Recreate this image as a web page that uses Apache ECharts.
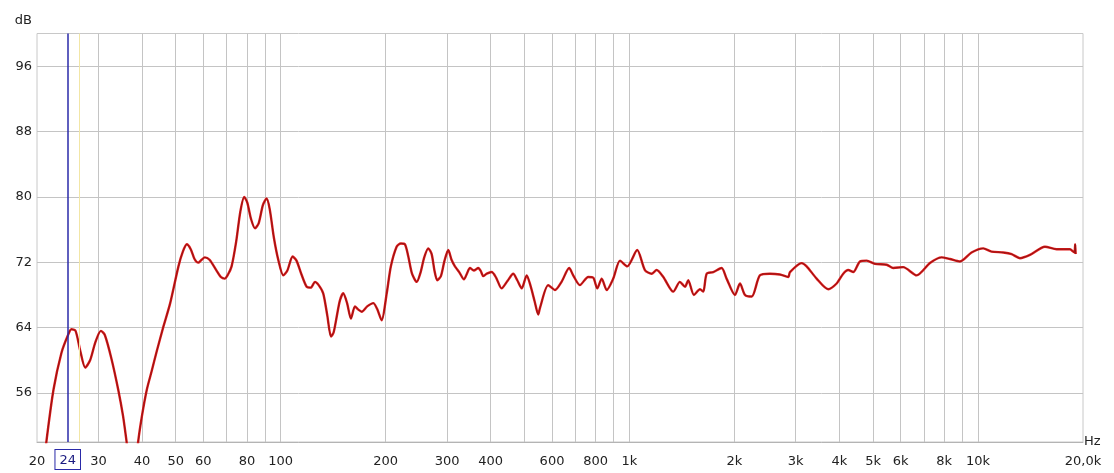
<!DOCTYPE html>
<html>
<head>
<meta charset="utf-8">
<title>Frequency response</title>
<script src="https://cdn.jsdelivr.net/npm/echarts@6/dist/echarts.min.js"></script>
<style>
  html, body { margin: 0; padding: 0; background: #fff; }
  #chart { width: 1114px; height: 473px; }
</style>
</head>
<body>
<div id="chart"></div>
<script>
// Measured response: frequency (Hz) and level (dB)
const freqHz = [
  20.5, 21.3, 22.3, 23.5, 24.5, 25.1, 25.8, 26.6, 27.5, 28.4, 29.4, 30.5, 31.3, 32.7, 34.2, 35.3, 36.1, 37.2, 38.2,
  39.0, 40.0, 41.3, 42.6, 44.1, 46.0, 48.2, 50.9, 52.4, 53.8, 55.2, 56.6, 58.0, 59.3, 60.6, 62.5, 65.4, 67.3, 69.1,
  70.6, 72.3, 74.5, 76.6, 78.6, 80.2, 82.2, 84.4, 86.5, 88.9, 91.1, 93.0, 95.6, 98.4, 101.7, 104.5, 108.2, 111,
  114.5, 118.7, 122, 125.4, 128.5, 132.4, 136, 139.4, 141.8, 144.7, 147.8, 151.1, 155, 159, 163.3, 167, 170.8,
  177, 184.3, 189, 194.8, 201.4, 207, 215, 221, 227.2, 232, 238, 245.5, 252, 258, 265, 271, 276, 281.2, 288, 295,
  302.4, 309, 316, 325, 335.5, 342, 349, 358, 368.8, 375, 381, 390, 402.8, 415, 430, 447, 464.4, 477, 491, 507.6,
  520, 535, 547.8, 554, 585, 612, 639, 672, 690, 721, 762, 788, 809, 833, 861, 899, 940, 986,
  1053, 1108, 1158, 1197, 1251, 1336, 1396, 1444, 1475, 1532, 1594, 1629, 1666, 1740, 1839, 1900,
  2008, 2076, 2146, 2243, 2368, 2530, 2702, 2856, 2888, 3120, 3224, 3444, 3718, 3930, 4106, 4242, 4387,
  4584, 4792, 5062, 5468, 5712, 6100, 6666, 7278, 7862, 8306, 8872, 9580, 10346, 10936, 11808, 12484,
  13186, 14086, 15554, 16806, 18346, 18750, 18900, 19000, 19050
];
const levelDb = [
  44, 50.2, 56.4, 60.9, 63.0, 63.8, 63.6, 61.2, 59.1, 60.0, 62.2, 63.6, 63.1, 60.2, 56.4, 53.2, 50.2, 46, 46,
  50.0, 53.2, 56.4, 58.6, 61.1, 64.0, 67.0, 71.5, 73.3, 74.2, 73.6, 72.4, 71.95, 72.3, 72.6, 72.3, 71.0, 70.2, 70.0,
  70.5, 71.5, 74.5, 78.2, 80.0, 79.3, 77.3, 76.15, 76.8, 79.0, 79.8, 78.5, 75.0, 72.3, 70.4, 71.0, 72.7, 72.2,
  70.6, 69.0, 68.9, 69.6, 69.2, 68.2, 65.5, 62.9, 63.4, 65.3, 67.3, 68.2, 67.0, 65.1, 66.6, 66.2, 65.95,
  66.6, 67.0, 66.3, 64.9, 68.2, 71.5, 73.9, 74.3, 74.2, 72.8, 70.6, 69.6, 70.8, 72.6, 73.7, 73.0, 71.0, 69.8, 70.3, 72.2,
  73.5, 72.3, 71.5, 70.8, 69.9, 70.6, 71.3, 71.0, 71.3, 70.9, 70.3, 70.6, 70.8, 70.1, 68.8, 69.7, 70.6, 69.8, 68.8, 70.4,
  69.2, 67.2, 65.6, 66.4, 69.2, 68.6, 69.6, 71.3, 70.4, 69.2, 70.2, 70.1, 68.8, 70.0, 68.6, 70.0, 72.2, 71.5,
  73.5, 71.05, 70.6, 71.05, 70.2, 68.4, 69.6, 69.0, 69.8, 68.0, 68.7, 68.4, 70.6, 70.8, 71.3, 70.0,
  68.0, 69.4, 68.0, 67.8, 70.4, 70.6, 70.5, 70.2, 70.8, 71.9, 71.5, 70.0, 68.7, 69.4, 70.6, 71.05, 70.8,
  72.1, 72.2, 71.8, 71.7, 71.3, 71.4, 70.4, 71.9, 72.6, 72.4, 72.1, 73.2, 73.7, 73.3, 73.2, 73.0,
  72.5, 72.9, 73.9, 73.6, 73.6, 73.3, 73.2, 74.2, 73.0
];

// Axis grid and label values
const xGridHz = [30, 40, 50, 60, 70, 80, 90, 100, 200, 300, 400, 500, 600, 700, 800, 900, 1000,
  2000, 3000, 4000, 5000, 6000, 7000, 8000, 9000, 10000];
const xLabelHz = [20, 30, 40, 50, 60, 80, 100, 200, 300, 400, 600, 800, 1000, 2000, 3000, 4000, 5000, 6000, 8000, 10000, 20000];
const xLabelText = ['20', '30', '40', '50', '60', '80', '100', '200', '300', '400', '600', '800', '1k', '2k', '3k', '4k', '5k', '6k', '8k', '10k', '20,0k'];
const yTicksDb = [56, 64, 72, 80, 88, 96];

// Cursor positions
const cursorHz = 24.5;
const cursorLabel = '24';
const markerHz = 26.4;

const data = freqHz.map((f, i) => [f, levelDb[i]]);
const font = 'DejaVu Sans';

function labelFor(v) {
  let best = 0, bestD = Infinity;
  xLabelHz.forEach((f, i) => {
    const d = Math.abs(Math.log(v) - Math.log(f));
    if (d < bestD) { bestD = d; best = i; }
  });
  return xLabelText[best];
}

const chart = echarts.init(document.getElementById('chart'), null, { renderer: 'canvas' });
chart.setOption({
  animation: false,
  backgroundColor: '#fff',
  grid: {
    left: 37, right: 31, top: 33.5, bottom: 31,
    show: true, borderColor: '#c8c8c8', borderWidth: 1, backgroundColor: 'transparent'
  },
  xAxis: {
    type: 'log',
    logBase: 10,
    min: 20,
    max: 20000,
    name: 'Hz',
    nameLocation: 'end',
    nameGap: 0,
    nameTextStyle: { color: '#222', fontFamily: font, fontSize: 13, align: 'left', verticalAlign: 'middle', padding: [0, 0, 0, 1] },
    axisLine: { show: true, lineStyle: { color: '#b4b4b4', width: 1 } },
    axisTick: { show: false, customValues: xGridHz },
    axisLabel: {
      customValues: xLabelHz,
      formatter: (v) => labelFor(v),
      color: '#222', fontFamily: font, fontSize: 13, margin: 13,
      showMinLabel: true, showMaxLabel: true, hideOverlap: false
    },
    splitLine: { show: true, lineStyle: { color: '#c4c4c4', width: 1 } },
    minorSplitLine: { show: false }
  },
  yAxis: {
    type: 'value',
    min: 50,
    max: 100,
    name: 'dB',
    nameLocation: 'end',
    nameGap: 6,
    nameTextStyle: { color: '#222', fontFamily: font, fontSize: 13, align: 'right', padding: [0, 5, 0, 0] },
    axisLine: { show: false },
    axisTick: { show: false, customValues: yTicksDb },
    axisLabel: { customValues: yTicksDb, color: '#222', fontFamily: font, fontSize: 13, margin: 5 },
    splitLine: { show: true, lineStyle: { color: '#c4c4c4', width: 1 } }
  },
  series: [
    {
      name: 'cursor',
      type: 'line',
      data: [],
      clip: false,
      markLine: {
        silent: true,
        symbol: 'none',
        animation: false,
        data: [
          [
            { coord: [markerHz, 50], lineStyle: { color: '#f2e6a6', width: 1, type: 'solid' }, label: { show: false } },
            { coord: [markerHz, 100] }
          ],
          [
            {
              coord: [cursorHz, 50],
              lineStyle: { color: '#2a2aa8', width: 1.5, type: 'solid' },
              label: {
                show: true, position: 'start', distance: 8, formatter: cursorLabel,
                color: '#1a1a80', fontFamily: font, fontSize: 13,
                borderColor: '#2a2aa8', borderWidth: 1, backgroundColor: '#fff', padding: [4, 4, 2, 4]
              }
            },
            { coord: [cursorHz, 100] }
          ]
        ]
      }
    },
    {
      name: 'level-halo',
      type: 'line',
      data: data,
      showSymbol: false,
      smooth: 0.25,
      clip: true,
      lineStyle: { color: '#e01b1b', width: 2.4 },
      z: 3
    },
    {
      name: 'level',
      type: 'line',
      data: data,
      showSymbol: false,
      smooth: 0.25,
      clip: true,
      lineStyle: { color: '#861414', width: 0.9 },
      z: 4
    }
  ]
});
</script>
</body>
</html>
